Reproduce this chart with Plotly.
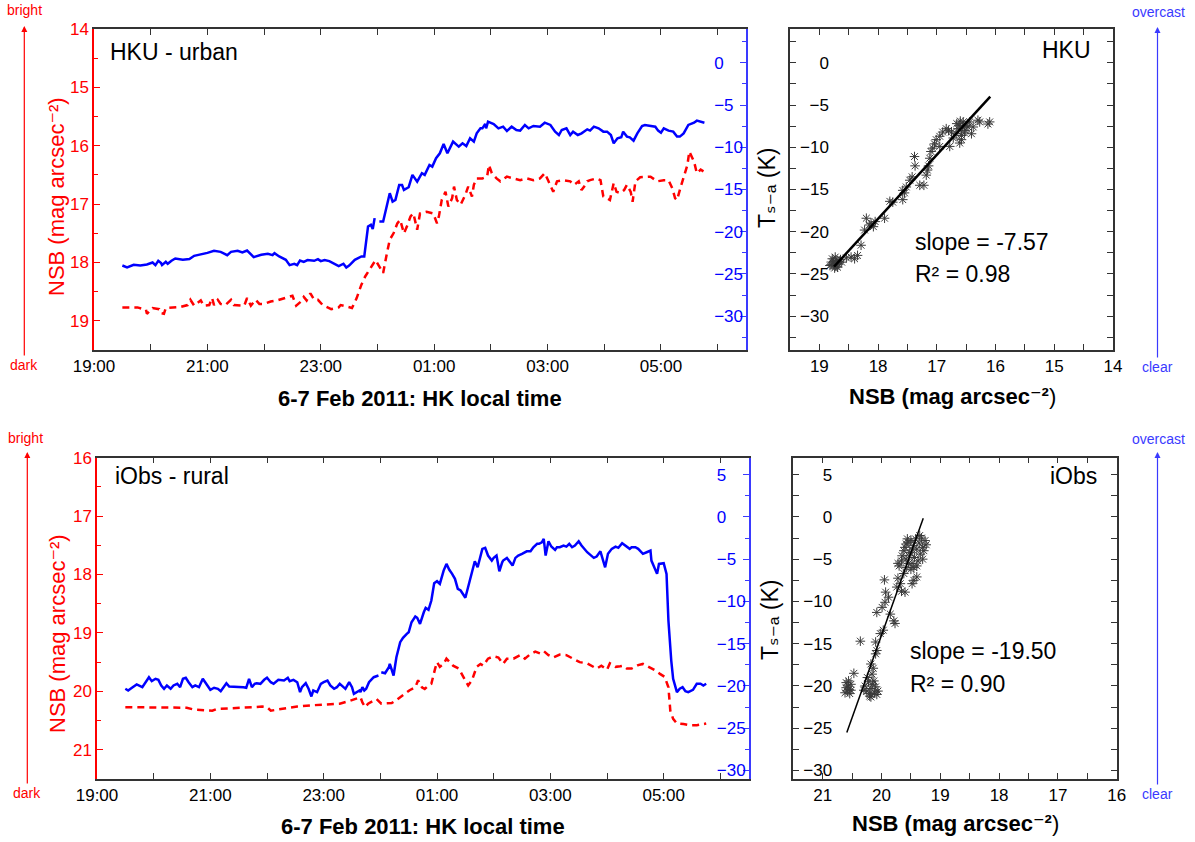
import plotly.graph_objects as go
import pandas as pd

# ---------------- data ----------------
# minutes after 19:00 on 6 Feb 2011
hku_tsa_min = [30, 35, 42, 49, 56, 62, 65, 68, 71, 72, 76, 78, 82, 86, 94, 101, 106, 113, 120, 127, 134, 141, 145,
               152, 157, 162, 166, 169, 177, 184, 189, 191, 196, 203, 207, 212, 215, 218, 222, 226, 233, 237, 240,
               244, 249, 254, 259, 264, 267, 270, 276, 283, 286, 290, 293, 295, 297, 300, 302, 306, 313, 316, 319,
               323, 326, 328, 333, 337, 342, 347, 350, 355, 358, 362, 366, 370, 374, 380, 386, 390, 394, 398, 402,
               405, 409, 411, 414, 415, 417, 423, 428, 433, 437, 442, 447, 451, 456, 460, 465, 472, 477, 483, 488,
               492, 495, 500, 504, 507, 512, 516, 522, 525, 529, 534, 539, 543, 547, 550, 554, 558, 560, 564, 567,
               571, 575, 580, 583, 589, 594, 597, 600, 603, 608, 613, 617, 620, 624, 629, 635, 638, 642, 646]
hku_tsa = [-24.0, -24.23, -23.91, -24.0, -23.88, -23.64, -23.95, -23.44, -23.72, -23.95, -23.56, -23.79, -23.44,
           -23.17, -23.32, -23.24, -22.85, -22.69, -22.5, -22.26, -22.38, -22.77, -22.38, -22.26, -22.46, -22.22,
           -22.73, -23.0, -22.73, -22.61, -22.77, -22.54, -22.93, -23.32, -23.95, -23.79, -23.95, -23.4, -23.56,
           -23.36, -23.44, -23.24, -23.48, -23.36, -23.48, -23.79, -24.07, -23.79, -24.23, -24.0, -23.32, -22.93,
           -22.93, -19.38, -19.18, -19.69, -18.39, None, -18.79, -18.79, -15.44, -16.43, -16.23, -14.46, -14.46,
           -15.05, -14.73, -13.27, -14.07, -13.07, -13.27, -12.09, -12.29, -11.3, -10.71, -9.61, -10.71, -9.33,
           -9.93, -9.53, -9.85, -8.94, -9.33, -8.35, -7.76, -7.76, -7.25, -7.76, -6.97, -7.25, -7.76, -7.56, -8.07,
           -7.56, -7.95, -8.03, -7.36, -7.76, -7.48, -7.56, -7.09, -7.36, -8.15, -8.55, -7.95, -7.76, -8.55, -8.15,
           -8.55, -8.35, -7.88, -8.03, -7.56, -7.76, -8.15, -8.15, -8.55, -9.53, -8.94, -8.82, -8.15, -8.74, -8.82,
           -9.22, -8.35, -7.48, -7.36, -7.48, -7.56, -8.03, -8.27, -7.76, -8.03, -8.15, -8.74, -8.74, -8.35, -7.36,
           -7.09, -6.85, -6.93, -7.09]

hku_nsb_min = [30, 46, 55, 56, 62, 69, 71, 74, 76, 85, 92, 99, 102, 106, 111, 113, 116, 122, 125, 127, 131, 134,
               139, 143, 145, 148, 154, 159, 162, 166, 171, 175, 180, 187, 194, 203, 210, 214, 219, 222, 225, 229,
               233, 237, 242, 251, 259, 261, 273, 278, 283, 287, 291, 294, 296, 298, 302, 306, 310, 313, 317, 321,
               324, 328, 331, 335, 338, 342, 345, 352, 359, 363, 365, 368, 372, 375, 379, 381, 384, 388, 393, 396,
               400, 402, 405, 411, 416, 418, 421, 426, 430, 437, 444, 451, 458, 465, 472, 477, 481, 486, 490, 497,
               504, 508, 513, 516, 520, 522, 525, 532, 536, 539, 543, 546, 550, 553, 557, 561, 564, 568, 570, 573,
               578, 589, 596, 603, 608, 612, 615, 617, 621, 624, 628, 630, 635, 638, 642, 645]
hku_nsb = [18.77, 18.77, 18.81, 18.88, 18.78, 18.80, 18.87, 18.88, 18.78, 18.77, 18.76, 18.73, 18.64, 18.74, 18.67,
           18.65, 18.74, 18.73, 18.61, 18.73, 18.64, 18.71, 18.73, 18.67, 18.64, 18.73, 18.74, 18.74, 18.61, 18.74,
           18.64, 18.71, 18.71, 18.67, 18.65, 18.61, 18.57, 18.74, 18.67, 18.59, 18.65, 18.53, 18.64, 18.64, 18.73,
           18.80, 18.77, 18.73, 18.78, 18.61, 18.38, 18.24, 18.13, 18.07, 18.01, 17.96, 18.07, 18.18, 17.84, 17.61,
           17.50, 17.33, 17.27, 17.50, 17.39, 17.21, 17.16, 17.44, 17.16, 17.13, 17.16, 17.33, 17.21, 16.93, 16.79,
           17.04, 16.90, 16.70, 16.93, 17.01, 16.84, 16.70, 16.87, 16.67, 16.56, 16.56, 16.53, 16.33, 16.47, 16.56,
           16.61, 16.53, 16.56, 16.59, 16.56, 16.59, 16.56, 16.47, 16.61, 16.79, 16.61, 16.59, 16.61, 16.67, 16.61,
           16.76, 16.67, 16.61, 16.59, 16.56, 16.59, 16.87, 16.90, 16.93, 16.64, 16.79, 16.81, 16.76, 16.67, 16.79,
           16.96, 16.61, 16.54, 16.53, 16.61, 16.59, 16.59, 16.73, 16.90, 16.93, 16.70, 16.53, 16.33, 16.10, 16.27,
           16.47, 16.41, 16.44]

iobs_tsa_min = [30, 33, 37, 42, 48, 51, 55, 58, 62, 65, 68, 71, 74, 78, 81, 85, 88, 91, 94, 97, 101, 104, 108, 112,
                116, 120, 124, 128, 131, 134, 137, 140, 148, 155, 158, 161, 164, 167, 169, 173, 177, 180, 184, 187,
                192, 198, 202, 204, 208, 212, 215, 217, 221, 224, 227, 229, 233, 237, 240, 244, 247, 251, 254, 257,
                261, 263, 267, 270, 272, 275, 278, 279, 281, 283, 285, 288, 293, 298, 300, 301, 305, 309, 310, 314,
                317, 321, 324, 328, 330, 333, 337, 339, 342, 346, 348, 351, 354, 357, 360, 363, 365, 367, 370, 373,
                376, 379, 382, 385, 390, 393, 397, 400, 403, 406, 408, 411, 414, 418, 420, 423, 426, 429, 430, 434,
                437, 440, 443, 446, 450, 451, 455, 459, 462, 466, 468, 471, 473, 475, 478, 481, 485, 487, 490, 494,
                497, 500, 503, 506, 510, 513, 519, 526, 529, 533, 538, 541, 545, 549, 552, 556, 559, 562, 564, 566,
                570, 573, 576, 578, 582, 586, 587, 590, 593, 595, 598, 600, 603, 605, 608, 610, 614, 617, 620, 623,
                626, 630, 631, 635, 639, 642, 645]
iobs_tsa = [-20.33, -20.53, -20.21, -19.82, -20.14, -19.67, -18.96, -19.43, -19.15, -19.27, -19.94, -20.33, -19.94,
            -20.33, -19.94, -19.74, -20.14, -19.15, -19.03, -19.55, -20.14, -19.94, -20.14, -19.15, -19.74, -20.45,
            -20.21, -20.33, -20.61, -20.14, -19.67, -20.06, -20.06, -20.14, -20.21, -19.15, -20.14, -19.74, -19.67,
            -19.74, -19.27, -19.03, -19.55, -19.74, -19.27, -19.35, -19.03, -19.43, -19.27, -19.55, -20.73, -20.14,
            -19.67, -20.33, -21.24, -20.53, -20.73, -19.74, -19.55, -19.35, -19.94, -20.33, -20.14, -19.74, -20.14,
            -20.33, -19.55, -20.14, -20.93, -20.73, -20.53, -20.73, -20.14, -20.53, -20.33, -19.55, -18.96, -18.76,
            None, -18.37, -18.49, -17.78, -17.38, -18.76, -16.60, -14.82, -14.30, -13.83, -13.64, -12.46, -11.78,
            -11.94, -12.65, -11.28, -10.76, -10.99, -9.89, -7.85, -7.61, -7.93, -7.14, -6.35, -5.56, -6.26, -6.74,
            -7.33, -8.51, -8.71, -9.57, -8.31, -6.74, -5.25, -5.96, -4.78, -3.78, -3.66, -4.57, -5.17, -4.85, -4.57,
            -6.43, -5.37, -5.17, -4.85, -5.37, -5.76, -4.85, -4.57, -4.37, -4.30, -4.07, -4.07, -3.59, -3.19, -3.19,
            -3.00, -2.60, -4.57, -2.88, -3.51, -3.90, -3.59, -3.59, -3.39, -3.51, -3.19, -3.59, -3.39, -2.88, -3.39,
            -4.18, -4.85, -4.69, -4.07, -5.96, -4.37, -3.78, -3.51, -3.66, -3.12, -3.39, -3.59, -3.78, -3.59, -3.59,
            -3.78, -4.07, -4.37, -4.18, -3.98, -5.17, -5.96, -6.74, -5.56, -5.56, -5.48, -6.74, -12.26, -16.99,
            -19.15, -20.73, -20.33, -20.14, -20.61, -20.73, -20.53, -20.45, -19.74, -19.74, -19.94, -19.74]

iobs_nsb_min = [30, 42, 56, 71, 85, 95, 102, 113, 122, 127, 141, 152, 166, 175, 180, 184, 191, 201, 212, 226, 240,
                254, 257, 268, 279, 281, 284, 287, 293, 296, 301, 307, 312, 316, 321, 326, 331, 337, 340, 344, 347,
                351, 354, 358, 360, 363, 367, 370, 374, 377, 383, 386, 390, 393, 397, 399, 402, 406, 409, 414, 420,
                425, 430, 434, 441, 448, 453, 459, 464, 469, 473, 478, 483, 490, 497, 504, 511, 519, 524, 529, 534,
                540, 543, 549, 554, 557, 561, 566, 573, 578, 584, 591, 596, 601, 605, 607, 610, 614, 621, 628, 635,
                640, 645]
iobs_nsb = [20.27, 20.27, 20.28, 20.28, 20.28, 20.28, 20.31, 20.32, 20.33, 20.30, 20.29, 20.29, 20.27, 20.26, 20.27,
            20.33, 20.31, 20.29, 20.26, 20.24, 20.23, 20.21, 20.21, 20.16, 20.10, 20.19, 20.27, 20.21, 20.16, 20.13,
            20.21, 20.21, 20.20, 20.16, 20.10, 20.04, 19.98, 19.93, 19.81, 19.93, 19.96, 19.90, 19.87, 19.61, 19.50,
            19.58, 19.53, 19.44, 19.50, 19.56, 19.61, 19.70, 19.81, 19.90, 19.81, 19.70, 19.58, 19.53, 19.56, 19.44,
            19.40, 19.42, 19.53, 19.44, 19.44, 19.38, 19.44, 19.36, 19.32, 19.35, 19.31, 19.38, 19.42, 19.37, 19.38,
            19.44, 19.50, 19.52, 19.57, 19.61, 19.56, 19.63, 19.52, 19.58, 19.57, 19.56, 19.61, 19.61, 19.55, 19.53,
            19.58, 19.64, 19.70, 19.75, 19.93, 20.33, 20.47, 20.55, 20.56, 20.58, 20.58, 20.56, 20.55]

# scatter points (NSB, Ts-a)
hku_sc_nsb = [18.80, 18.76, 18.72, 18.70, 18.78, 18.74, 18.68, 18.82, 18.66, 18.73, 18.77, 18.71, 18.64, 18.69,
              18.75, 18.62, 18.54, 18.46, 18.35, 18.40, 18.29, 18.23, 18.20, 18.15, 18.12, 18.05, 18.08, 17.89,
              17.80, 17.75, 17.58, 17.58, 17.52, 17.55, 17.46, 17.42, 17.38, 17.37, 17.29, 17.22, 17.18, 17.16,
              17.14, 17.12, 17.10, 17.07, 17.04, 17.01, 16.95, 16.90, 16.84, 16.80, 16.75, 16.72, 16.78, 16.95,
              16.67, 16.64, 16.61, 16.58, 16.55, 16.62, 16.50, 16.52, 16.47, 16.44, 16.41, 16.38, 16.58, 16.66,
              16.30, 16.27, 16.13, 16.10, 16.56, 16.53, 16.60]
hku_sc_tsa = [-23.9, -23.6, -24.1, -23.4, -23.2, -24.3, -23.8, -24.0, -23.5, -23.0, -23.7, -23.9, -23.3, -24.2,
              -23.5, -23.6, -23.1, -23.0, -22.8, -23.2, -21.6, -19.8, -18.4, -19.2, -19.0, -18.8, -19.4, -18.4,
              -16.4, -16.5, -16.2, -15.1, -14.7, -15.4, -13.9, -13.5, -11.1, -12.2, -14.5, -14.5, -13.3, -12.7,
              -12.2, -11.3, -10.5, -10.1, -9.6, -9.1, -8.7, -8.2, -7.8, -8.0, -8.2, -8.9, -9.9, -9.9, -8.4, -7.8,
              -9.5, -9.1, -7.0, -7.4, -7.4, -8.0, -7.6, -7.0, -8.4, -7.6, -8.6, -7.2, -6.8, -7.0, -7.25, -7.0,
              -7.6, -8.3, -6.9]

iobs_sc_nsb = [20.60, 20.57, 20.55, 20.62, 20.52, 20.58, 20.54, 20.60, 20.56, 20.52, 20.47, 20.36, 20.28, 20.25,
               20.22, 20.20, 20.18, 20.15, 20.12, 20.10, 20.08, 20.24, 20.16, 20.30, 20.20, 20.13, 20.06, 20.18,
               20.18, 20.14, 20.10, 20.08, 20.10, 20.02, 19.97, 20.08, 19.99, 19.94, 19.88, 19.95, 19.93, 19.79,
               19.77, 19.85, 19.74, 19.68, 19.66, 19.72, 19.62, 19.58, 19.54, 19.72, 19.66, 19.48, 19.60, 19.40,
               19.45, 19.70, 19.65, 19.60, 19.58, 19.55, 19.52, 19.50, 19.48, 19.46, 19.44, 19.42, 19.40, 19.38,
               19.36, 19.34, 19.32, 19.30, 19.28, 19.26, 19.24, 19.50, 19.45, 19.62, 19.56, 19.40, 19.35, 19.30,
               19.47, 19.53, 19.58]
iobs_sc_tsa = [-19.6, -20.0, -20.4, -20.8, -19.8, -20.6, -20.9, -20.2, -19.4, -20.5, -18.5, -14.7, -20.0, -20.6,
               -19.5, -21.2, -20.3, -19.8, -20.8, -20.1, -21.0, -19.0, -18.6, -20.5, -20.9, -19.4, -20.6, -21.3,
               -17.4, -17.9, -16.2, -15.8, -14.8, -13.8, -13.4, -11.3, -10.7, -10.1, -9.5, -7.45, -8.9, -12.3,
               -12.6, -11.5, -8.3, -7.9, -8.8, -7.25, -6.7, -6.0, -5.5, -5.5, -5.2, -7.9, -8.9, -7.1, -7.5, -5.8,
               -4.6, -3.6, -5.0, -3.0, -4.2, -2.8, -5.5, -3.4, -4.8, -2.6, -3.8, -5.2, -3.1, -4.4, -2.5, -3.6,
               -4.0, -2.8, -3.3, -6.2, -6.0, -4.0, -2.6, -5.8, -2.2, -5.0, -3.9, -4.6, -3.2]

# linear fits (slope, intercept, NSB extent)
hku_fit_slope, hku_fit_icpt, hku_fit_nsb = -7.57, 117.8, [18.75, 16.09]
iobs_fit_slope, iobs_fit_icpt, iobs_fit_nsb = -19.50, 376.0, [20.59, 19.29]

time_ticks = ["19:00", "21:00", "23:00", "01:00", "03:00", "05:00"]

# ---------------- helpers ----------------
W, H = 1195, 842
BASE = pd.Timestamp("2011-02-06 19:00")
FONT = "Liberation Sans, Arial, DejaVu Sans, sans-serif"
RED = "#ff0000"
BLUE = "#0000ff"
AXBLUE = "#3a3aff"
DARK = "#333333"
MARK = "#3a3a3a"


def px(x):
    return x / W


def py(y):
    return 1 - y / H


def times(mins):
    return [BASE + pd.Timedelta(minutes=m) for m in mins]


fig = go.Figure()

# line panels
fig.add_trace(go.Scatter(x=times(hku_nsb_min), y=hku_nsb, mode="lines", xaxis="x", yaxis="y",
                         line=dict(color=RED, width=2.5, dash="7px,5px"), showlegend=False))
fig.add_trace(go.Scatter(x=times(hku_tsa_min), y=hku_tsa, mode="lines", xaxis="x", yaxis="y2",
                         line=dict(color=BLUE, width=2.5), showlegend=False))
fig.add_trace(go.Scatter(x=times(iobs_nsb_min), y=iobs_nsb, mode="lines", xaxis="x2", yaxis="y3",
                         line=dict(color=RED, width=2.5, dash="7px,5px"), showlegend=False))
fig.add_trace(go.Scatter(x=times(iobs_tsa_min), y=iobs_tsa, mode="lines", xaxis="x2", yaxis="y4",
                         line=dict(color=BLUE, width=2.5), showlegend=False))

# scatter panels
mk = dict(symbol="asterisk-open", size=8, color=MARK, line=dict(color=MARK, width=1))
fig.add_trace(go.Scatter(x=hku_sc_nsb, y=hku_sc_tsa, mode="markers", xaxis="x3", yaxis="y5",
                         marker=mk, showlegend=False))
fig.add_trace(go.Scatter(x=hku_fit_nsb, y=[hku_fit_slope * v + hku_fit_icpt for v in hku_fit_nsb],
                         mode="lines", xaxis="x3", yaxis="y5", line=dict(color="black", width=2.5),
                         showlegend=False))
fig.add_trace(go.Scatter(x=iobs_sc_nsb, y=iobs_sc_tsa, mode="markers", xaxis="x4", yaxis="y6",
                         marker=mk, showlegend=False))
fig.add_trace(go.Scatter(x=iobs_fit_nsb, y=[iobs_fit_slope * v + iobs_fit_icpt for v in iobs_fit_nsb],
                         mode="lines", xaxis="x4", yaxis="y6", line=dict(color="black", width=1.5),
                         showlegend=False))

tickfont = dict(family=FONT, size=17, color="black")


def time_axis(domain, anchor):
    return dict(domain=domain, anchor=anchor, type="date", automargin=False,
                range=[BASE, BASE + pd.Timedelta(hours=11.5)],
                tickmode="array", tickvals=[BASE + pd.Timedelta(hours=2 * i) for i in range(len(time_ticks))],
                ticktext=time_ticks,
                ticks="inside", ticklen=6, tickwidth=1.2, tickcolor=DARK,
                minor=dict(tickvals=[BASE + pd.Timedelta(hours=2 * i + 1) for i in range(6)],
                           ticks="inside", ticklen=6, tickwidth=1.2, tickcolor=DARK),
                showline=True, linecolor=DARK, linewidth=1.5, mirror="ticks",
                showgrid=False, zeroline=False, tickfont=tickfont)


def nsb_axis(domain, anchor, rng):
    return dict(domain=domain, anchor=anchor, range=rng, dtick=1, tick0=0, automargin=False,
                ticks="inside", ticklen=6, tickwidth=1.2, tickcolor=RED,
                minor=dict(dtick=0.5, ticks="inside", ticklen=4, tickwidth=1.2, tickcolor=RED),
                showline=True, linecolor=RED, linewidth=1.5, showgrid=False, zeroline=False,
                tickfont=dict(family=FONT, size=17, color=RED))


def tsa_axis(overlay, anchor, rng):
    return dict(overlaying=overlay, anchor=anchor, side="right", range=rng, dtick=5, tick0=0,
                automargin=False,
                ticks="inside", ticklen=6, tickwidth=1.2, tickcolor=AXBLUE,
                minor=dict(dtick=2.5, ticks="inside", ticklen=4, tickwidth=1.2, tickcolor=AXBLUE),
                showline=True, linecolor=AXBLUE, linewidth=1.5, showgrid=False, zeroline=False,
                ticklabelstandoff=-37,
                tickfont=dict(family=FONT, size=17, color=BLUE))


def sc_x(domain, anchor, rng):
    return dict(domain=domain, anchor=anchor, range=rng, dtick=1, tick0=0, automargin=False,
                ticks="inside", ticklen=6, tickwidth=1.2, tickcolor=DARK,
                minor=dict(dtick=0.5, ticks="inside", ticklen=6, tickwidth=1.2, tickcolor=DARK),
                showline=True, linecolor=DARK, linewidth=1.5, mirror="ticks",
                showgrid=False, zeroline=False, tickfont=tickfont)


def sc_y(domain, anchor, rng):
    return dict(domain=domain, anchor=anchor, range=rng, dtick=5, tick0=0, automargin=False,
                ticks="inside", ticklen=6, tickwidth=1.2, tickcolor=DARK,
                minor=dict(dtick=2.5, ticks="inside", ticklen=6, tickwidth=1.2, tickcolor=DARK),
                showline=True, linecolor=DARK, linewidth=1.5, mirror="ticks",
                showgrid=False, zeroline=False, ticklabelstandoff=-44, tickfont=tickfont)


top_dom = [py(350), py(29)]
bot_dom = [py(779), py(457.7)]

fig.update_layout(
    width=W, height=H, margin=dict(l=0, r=0, t=0, b=0, autoexpand=False),
    paper_bgcolor="white", plot_bgcolor="white",
    font=dict(family=FONT, color="black"),
    xaxis=time_axis([px(94), px(746)], "y"),
    yaxis=nsb_axis(top_dom, "x", [19.5, 14]),
    yaxis2=tsa_axis("y", "x", [-34, 4]),
    xaxis2=time_axis([px(97), px(748.7)], "y3"),
    yaxis3=nsb_axis(bot_dom, "x2", [21.5, 16]),
    yaxis4=tsa_axis("y3", "x2", [-31, 7]),
    xaxis3=sc_x([px(790), px(1113)], "y5", [19.5, 14]),
    yaxis5=sc_y(top_dom, "x3", [-34, 4]),
    xaxis4=sc_x([px(793.3), px(1116.7)], "y6", [21.5, 16]),
    yaxis6=sc_y(bot_dom, "x4", [-31, 7]),
)

ann = []


def text(x, y, s, size, color="black", xanchor="center", angle=0):
    ann.append(dict(x=px(x), y=py(y), xref="paper", yref="paper", text=s, showarrow=False,
                    xanchor=xanchor, yanchor="middle", textangle=angle,
                    font=dict(family=FONT, size=size, color=color)))


def arrow_label(x, y_head, y_text, s, color):
    # label text sits at the arrow tail; arrow runs up from it to the head
    ann.append(dict(x=px(x), y=py(y_head), xref="paper", yref="paper", text=s, showarrow=True,
                    ax=0, ay=y_text - y_head, arrowhead=2, arrowsize=1, arrowwidth=1.2,
                    arrowcolor=color, standoff=0, font=dict(family=FONT, size=14, color=color)))


nsb_title = "NSB (mag arcsec\u207b\u00b2)"
# y titles of line panels
text(56, 197, nsb_title, 22, RED, angle=-90)
text(57, 634, nsb_title, 22, RED, angle=-90)
# x titles
text(420, 398, "<b>6-7 Feb 2011: HK local time</b>", 22)
text(423, 826, "<b>6-7 Feb 2011: HK local time</b>", 22)
text(952, 396, "<b>NSB (mag arcsec\u207b\u00b2</b>)", 22)
text(955, 823, "<b>NSB (mag arcsec\u207b\u00b2</b>)", 22)
# scatter y titles
text(767, 188, "T\u209b\u208b\u2090 (K)", 23, angle=-90)
text(770, 620, "T\u209b\u208b\u2090 (K)", 23, angle=-90)
# panel labels
text(108, 52, "HKU - urban", 23, xanchor="left")
text(113, 476, "iObs - rural", 23, xanchor="left")
text(1093, 50, "HKU", 23, xanchor="right")
text(1099, 476, "iObs", 23, xanchor="right")
text(913, 242, "slope = -7.57", 23, xanchor="left")
text(913, 274, "R\u00b2 = 0.98", 23, xanchor="left")
text(908, 651, "slope = -19.50", 23, xanchor="left")
text(908, 684, "R\u00b2 = 0.90", 23, xanchor="left")
# brightness / cloud arrows
text(24, 10, "bright", 14, RED)
arrow_label(24.3, 26, 365, "dark", RED)
text(26, 438, "bright", 14, RED)
arrow_label(27.3, 452, 793, "dark", RED)
text(1158, 12, "overcast", 14, AXBLUE)
arrow_label(1157.5, 27, 367, "clear", AXBLUE)
text(1158, 439, "overcast", 14, AXBLUE)
arrow_label(1157.5, 452, 794, "clear", AXBLUE)

fig.update_layout(annotations=ann)
fig.write_html("out.html")
